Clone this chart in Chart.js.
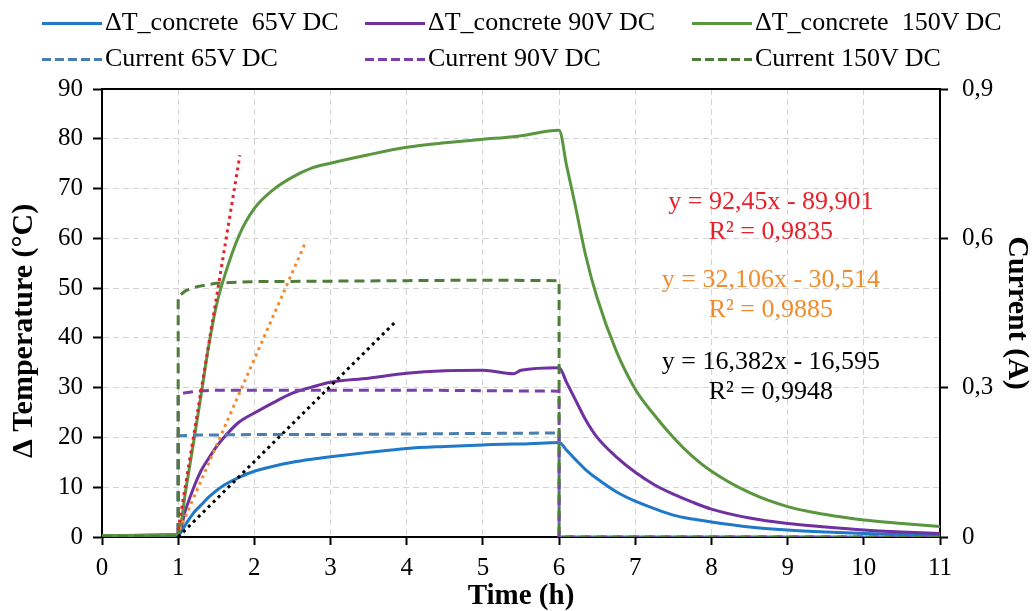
<!DOCTYPE html>
<html>
<head>
<meta charset="utf-8">
<script src="https://cdn.jsdelivr.net/npm/chart.js@4.4.1/dist/chart.umd.min.js"></script>
<style>
  html, body { margin: 0; padding: 0; background: #fff; }
  #wrap { position: relative; width: 1035px; height: 611px; font-family: "Liberation Serif", "Times New Roman", serif; }
  canvas { position: absolute; left: 0; top: 0; }
  .lg { position: absolute; font-size: 26px; line-height: 30px; white-space: pre; color: #000; }
  .lg i { display: inline-block; width: 60px; height: 3px; vertical-align: middle; margin-right: 3px; position: relative; top: -1px; }
</style>
</head>
<body>
<div id="wrap">
  <canvas id="myChart" width="1035" height="611"></canvas>
</div>
<script>
// time grid for the temperature curves (h)
const timeT = [0, 1, 1.1, 1.2, 1.3, 1.4, 1.5, 1.6, 1.8, 2, 2.25, 2.5, 2.75, 3, 3.5, 4, 4.5, 5, 5.4, 5.5, 6,
  6.1, 6.2, 6.35, 6.5, 6.75, 7, 7.25, 7.5, 7.75, 8, 8.5, 9, 9.5, 10, 10.5, 11];
const dT65 = [0.3, 0.4, 2.6, 4.8, 6.4, 8.0, 9.3, 10.4, 12.0, 13.2, 14.2, 15.0, 15.6, 16.1, 17.0, 17.8, 18.2, 18.5, 18.7, 18.7, 19.0,
  17.4, 15.8, 13.5, 11.7, 9.1, 7.2, 5.7, 4.4, 3.6, 3.0, 2.0, 1.4, 1.0, 0.7, 0.5, 0.4];
const dT90 = [0.3, 0.5, 5.6, 9.8, 13.3, 15.8, 18.1, 20.0, 23.1, 24.9, 27.0, 28.9, 30.1, 31.1, 31.9, 32.9, 33.4, 33.5, 32.8, 33.5, 34.0,
  31.0, 28.0, 23.5, 20.0, 16.1, 13.0, 10.5, 8.6, 7.0, 5.6, 3.8, 2.7, 2.0, 1.4, 1.0, 0.7];
const dT150 = [0.3, 0.5, 9.5, 18.8, 28.5, 38.3, 46.4, 52.0, 60.6, 66.0, 69.8, 72.3, 74.1, 75.1, 76.8, 78.3, 79.2, 79.9, 80.4, 80.6, 81.7,
  74.5, 67.5, 56.5, 48.0, 37.4, 29.7, 24.5, 20.0, 16.2, 13.2, 8.9, 6.1, 4.5, 3.4, 2.7, 2.1];

// current (A)
const timeI = [0, 1, 1, 1.1, 1.25, 1.5, 2, 3, 4, 5, 6, 6, 11];
const cur65 = [0, 0, 0.203, 0.204, 0.205, 0.205, 0.206, 0.206, 0.207, 0.208, 0.209, 0, 0];
const cur90 = [0, 0, 0.287, 0.290, 0.293, 0.295, 0.295, 0.295, 0.295, 0.294, 0.293, 0, 0];
const cur150 = [0, 0, 0.483, 0.495, 0.503, 0.510, 0.513, 0.514, 0.515, 0.516, 0.515, 0, 0];

// linear trend lines (start / end points)
const trendRedX = [1.0, 1.81], trendRedY = [1.5, 76.7];
const trendOrangeX = [1.02, 2.68], trendOrangeY = [1.5, 59.5];
const trendBlackX = [1.0, 3.85], trendBlackY = [0, 43.2];

const rightTicks = ["0", "0,3", "0,6", "0,9"];

const legendItems = [
  { label: "\u0394T_concrete  65V DC", color: "#1f78c8", dash: false, left: 42, top: 7 },
  { label: "\u0394T_concrete 90V DC", color: "#7030a0", dash: false, left: 365, top: 7 },
  { label: "\u0394T_concrete  150V DC", color: "#5a9640", dash: false, left: 692, top: 7 },
  { label: "Current 65V DC", color: "#4a7eb0", dash: true, left: 42, top: 43 },
  { label: "Current 90V DC", color: "#7a3fa8", dash: true, left: 365, top: 43 },
  { label: "Current 150V DC", color: "#4e7d3a", dash: true, left: 692, top: 43 }
];

const equations = [
  { lines: ["y = 92,45x - 89,901", "R\u00b2 = 0,9835"], color: "#e8202a", y: 67.3 },
  { lines: ["y = 32,106x - 30,514", "R\u00b2 = 0,9885"], color: "#f08c30", y: 51.6 },
  { lines: ["y = 16,382x - 16,595", "R\u00b2 = 0,9948"], color: "#000000", y: 35.2 }
];

const pts = (xs, ys) => xs.map((x, i) => ({ x: x, y: ys[i] }));

// html legend
const wrap = document.getElementById("wrap");
legendItems.forEach((it) => {
  const d = document.createElement("div");
  d.className = "lg";
  d.style.left = it.left + "px";
  d.style.top = it.top + "px";
  const line = document.createElement("i");
  line.style.background = it.dash
    ? "repeating-linear-gradient(to right, " + it.color + " 0 9px, transparent 9px 13px)"
    : it.color;
  d.appendChild(line);
  d.appendChild(document.createTextNode(it.label));
  wrap.appendChild(d);
});

const framePlugin = {
  id: "frame",
  afterDraw(chart) {
    const { ctx, chartArea, scales } = chart;
    ctx.save();
    ctx.strokeStyle = "#000";
    ctx.lineWidth = 2;
    ctx.beginPath();
    ctx.moveTo(chartArea.left, chartArea.top);
    ctx.lineTo(chartArea.right, chartArea.top);
    ctx.stroke();
    // regression equations
    ctx.font = "26px 'Liberation Serif'";
    ctx.textAlign = "center";
    ctx.textBaseline = "middle";
    const cx = scales.x.getPixelForValue(8.78);
    equations.forEach((eq) => {
      const y0 = scales.y.getPixelForValue(eq.y);
      ctx.fillStyle = eq.color;
      eq.lines.forEach((t, i) => ctx.fillText(t, cx, y0 + i * 30));
    });
    // left axis title, sits a little below the middle like the original
    ctx.fillStyle = "#000";
    ctx.font = "bold 30px 'Liberation Serif'";
    ctx.translate(scales.y.left + 24, chartArea.top + (chartArea.bottom - chartArea.top) * 0.54);
    ctx.rotate(-Math.PI / 2);
    ctx.fillText("\u0394 Temperature (\u00b0C)", 0, 0);
    ctx.restore();
  }
};

const solid = (label, data, color, order) => ({
  label, data, borderColor: color, borderWidth: 3, pointRadius: 0,
  cubicInterpolationMode: "monotone", yAxisID: "y", order
});
const dashed = (label, data, color, order) => ({
  label, data, borderColor: color, borderWidth: 3, pointRadius: 0,
  borderDash: [10, 6], tension: 0, yAxisID: "y2", order
});
const dotted = (label, data, color) => ({
  label, data, borderColor: color, borderWidth: 3, pointRadius: 0,
  borderDash: [3, 4], tension: 0, yAxisID: "y", order: 0
});

const tickFont = { family: "Liberation Serif", size: 25 };
const titleFont = { family: "Liberation Serif", size: 29, weight: "bold" };

const ctx = document.getElementById("myChart");
new Chart(ctx, {
  type: "line",
  data: {
    datasets: [
      dotted("trend 150V", pts(trendRedX, trendRedY), "#e8202a"),
      dotted("trend 90V", pts(trendOrangeX, trendOrangeY), "#f08c30"),
      dotted("trend 65V", pts(trendBlackX, trendBlackY), "#000000"),
      dashed("Current 150V DC", pts(timeI, cur150), "#4e7d3a", 1),
      dashed("Current 90V DC", pts(timeI, cur90), "#7a3fa8", 2),
      dashed("Current 65V DC", pts(timeI, cur65), "#4a7eb0", 3),
      solid("\u0394T_concrete 150V DC", pts(timeT, dT150), "#5a9640", 4),
      solid("\u0394T_concrete 90V DC", pts(timeT, dT90), "#7030a0", 5),
      solid("\u0394T_concrete 65V DC", pts(timeT, dT65), "#1f78c8", 6)
    ]
  },
  options: {
    responsive: false,
    animation: false,
    layout: { padding: { top: 89, left: 0, right: 0, bottom: 0 } },
    plugins: { legend: { display: false }, tooltip: { enabled: false } },
    scales: {
      x: {
        type: "linear", min: 0, max: 11,
        ticks: { stepSize: 1, color: "#000", font: tickFont, padding: 8 },
        grid: { color: "#d4d4d4", lineWidth: 1, tickLength: 8, tickColor: "#000", tickWidth: 2, tickBorderDash: [] },
        border: { color: "#000", width: 2, dash: [6, 4] },
        title: { display: true, text: "Time (h)", color: "#000", font: { ...titleFont, lineHeight: 1 }, padding: 0 },
        afterFit: (s) => { s.height = 74; }
      },
      y: {
        position: "left", min: 0, max: 90,
        ticks: { stepSize: 10, color: "#000", font: tickFont, padding: 10 },
        grid: { color: "#d4d4d4", lineWidth: 1, tickLength: 9, tickColor: "#000", tickWidth: 2, tickBorderDash: [] },
        border: { color: "#000", width: 2, dash: [6, 4] },
        title: { display: false },
        afterFit: (s) => { s.width = 102; }
      },
      y2: {
        position: "right", min: 0, max: 0.9,
        afterBuildTicks: (s) => { s.ticks = rightTicks.map((t, i) => ({ value: i * 0.3 })); },
        ticks: { color: "#000", font: tickFont, padding: 14,
          callback: (v, i) => rightTicks[i] },
        grid: { drawOnChartArea: false, tickLength: 8, tickColor: "#000", tickWidth: 2 },
        border: { color: "#000", width: 2 },
        title: { display: true, text: "Current (A)", color: "#000", font: { ...titleFont, size: 30 }, padding: 0 },
        afterFit: (s) => { s.width = 95; }
      }
    }
  },
  plugins: [framePlugin]
});
</script>
</body>
</html>
